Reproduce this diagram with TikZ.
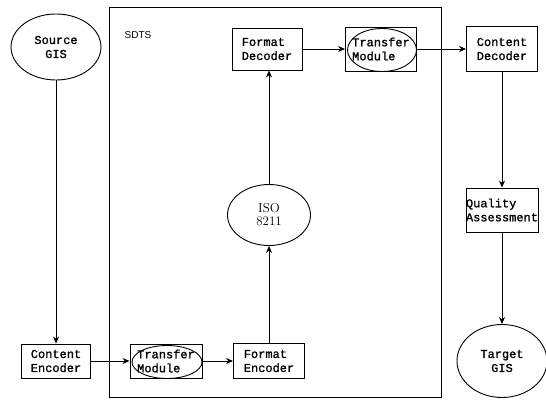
\documentclass[tikz,border=0pt]{standalone}
\usepackage{fontspec}
\newfontfamily\twfont{Liberation Mono}[FakeBold=1.2]
\newfontfamily\lblfont{Liberation Sans}
\usetikzlibrary{shapes.geometric,arrows.meta}
\begin{document}
\begin{tikzpicture}[x=1pt,y=-1pt,
  line width=0.9pt,
  every node/.style={inner sep=0pt,font=\twfont\fontsize{12}{14}\selectfont},
  box/.style={draw,rectangle,align=left},
  oval/.style={draw,ellipse,align=center},
  arr/.style={-{Stealth[length=7pt,width=6pt]}}
]
\useasboundingbox (0,0) rectangle (546,403);
% SDTS frame
\node[draw,rectangle,minimum width=332pt,minimum height=390pt] (sdts) at (275,202) {};
\node[font=\lblfont\fontsize{10}{12}\selectfont] (sdtslbl) at (138,35) {SDTS};
% nodes
\node[oval,minimum width=90pt,minimum height=66pt] (src) at (56,47) {Source\\GIS};
\node[box,minimum width=69pt,minimum height=34pt] (ce) at (56,361) {Content\\Encoder};
\node[box,minimum width=72pt,minimum height=34pt] (tmb) at (166,361) {Transfer\\Module};
\node[draw,ellipse,minimum width=70pt,minimum height=33pt] (tmbe) at (167,362) {};
\node[box,minimum width=71pt,minimum height=35pt] (fe) at (269,361) {Format\\Encoder};
\node[oval,minimum width=83pt,minimum height=61pt,font=\rmfamily\fontsize{13}{13}\selectfont] (iso) at (269,215) {ISO\\8211};
\node[box,minimum width=70pt,minimum height=42pt] (fd) at (267,49) {Format\\Decoder};
\node[box,minimum width=71pt,minimum height=44pt] (tmt) at (381,49) {Transfer\\Module};
\node[draw,ellipse,minimum width=69pt,minimum height=43pt] (tmte) at (382,50) {};
\node[box,minimum width=71pt,minimum height=45pt] (cd) at (502,49) {Content\\Decoder};
\node[box,minimum width=72pt,minimum height=44pt] (qa) at (502,210) {Quality\\Assessment};
\node[oval,minimum width=90pt,minimum height=73pt] (tg) at (502,361) {Target\\GIS};
% connectors
\draw[arr] (src.south) -- (ce.north);
\draw[arr] (ce.east) -- (tmb.west);
\draw[arr] (tmb.east) -- (fe.west);
\draw[arr] (fe.north) -- (iso.south);
\draw[arr] (iso.north) -- (fd.south -| iso.north);
\draw[arr] (fd.east) -- (tmt.west);
\draw[arr] (tmt.east) -- (cd.west);
\draw[arr] (cd.south) -- (qa.north);
\draw[arr] (qa.south) -- (tg.north);
\end{tikzpicture}
\end{document}
